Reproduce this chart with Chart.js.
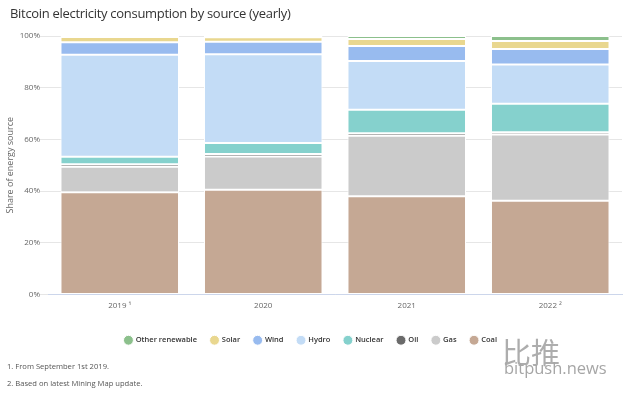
<!DOCTYPE html>
<html>
<head>
<meta charset="utf-8">
<script src="https://cdn.jsdelivr.net/npm/chart.js@4/dist/chart.umd.min.js"></script>
<style>
  body { margin: 0; background: #fff; }
  #wrap { position: relative; width: 628px; height: 394px; overflow: hidden; font-family: "Open Sans", sans-serif; }
  #title { position: absolute; left: 10px; top: 4px; font-size: 13px; letter-spacing: -0.3px; color: #333; white-space: nowrap; }
  .note { position: absolute; left: 7px; font-size: 7.6px; color: #555; white-space: nowrap; }
  #mark1 { position: absolute; left: 502px; top: 330px; font-size: 29px; color: #adadad; font-family: "Noto Sans CJK SC", sans-serif; }
  #mark2 { position: absolute; left: 504px; top: 356px; font-size: 16.5px; color: #a6a6a6; }
  canvas { position: absolute; left: 0; top: 0; }
</style>
</head>
<body>
<div id="wrap">
  <canvas id="chart" width="628" height="394"></canvas>
  <div id="title">Bitcoin electricity consumption by source (yearly)</div>
  <div class="note" style="top:361px">1. From September 1st 2019.</div>
  <div class="note" style="top:378px">2. Based on latest Mining Map update.</div>
  <div id="mark1">比推</div>
  <div id="mark2">bitpush.news</div>
</div>
<script>
const years = ['2019 ¹', '2020', '2021', '2022 ²'];

// share of energy source, % per year
const coal = [39.6, 40.5, 38.0, 36.3];
const gas = [9.8, 12.9, 23.4, 25.6];
const oil = [1.0, 1.0, 1.0, 0.9];
const nuclear = [2.9, 4.2, 9.1, 11.0];
const hydro = [39.4, 34.3, 18.8, 15.2];
const wind = [4.9, 4.9, 5.8, 6.0];
const solar = [2.0, 1.7, 2.7, 3.1];
const otherRenewable = [0.4, 0.5, 1.2, 1.9];

const yTicks = [0, 20, 40, 60, 80, 100];

// bottom of the stack first
const series = [
  { label: 'Coal', data: coal, color: '#c5a894' },
  { label: 'Gas', data: gas, color: '#cbcbcb' },
  { label: 'Oil', data: oil, color: '#6a6a6a' },
  { label: 'Nuclear', data: nuclear, color: '#85d1cd' },
  { label: 'Hydro', data: hydro, color: '#c3dcf6' },
  { label: 'Wind', data: wind, color: '#98bbef' },
  { label: 'Solar', data: solar, color: '#e9d78f' },
  { label: 'Other renewable', data: otherRenewable, color: '#8cc08c' }
];

new Chart(document.getElementById('chart'), {
  type: 'bar',
  data: {
    labels: years,
    datasets: series.map(s => ({
      label: s.label,
      data: s.data,
      backgroundColor: s.color,
      borderColor: '#ffffff',
      borderWidth: 1,
      borderSkipped: false,
      barPercentage: 0.826,
      categoryPercentage: 1
    }))
  },
  options: {
    responsive: false,
    animation: false,
    layout: { padding: { top: 36, right: 6, bottom: 40, left: 0 } },
    plugins: {
      tooltip: { enabled: false },
      title: { display: false },
      legend: {
        position: 'bottom',
        reverse: true,
        labels: {
          usePointStyle: true,
          pointStyle: 'circle',
          boxWidth: 7,
          boxHeight: 7,
          padding: 14,
          color: '#333',
          font: { family: 'Open Sans', size: 7.5, weight: '600' }
        }
      }
    },
    scales: {
      x: {
        stacked: true,
        grid: { display: false, drawTicks: false },
        border: { color: '#ccd6eb' },
        ticks: { color: '#666', font: { family: 'Open Sans', size: 8 }, padding: 6 },
        afterFit: s => { s.height = 28; }
      },
      y: {
        stacked: true,
        min: 0,
        max: 100,
        afterBuildTicks: s => { s.ticks = yTicks.map(v => ({ value: v })); },
        grid: { color: '#e6e6e6', drawTicks: true, tickLength: 8, tickColor: '#e6e6e6' },
        border: { display: false },
        ticks: {
          color: '#666',
          font: { family: 'Open Sans', size: 8 },
          padding: 0,
          callback: v => v + '%'
        },
        title: {
          display: true,
          text: 'Share of energy source',
          color: '#666',
          font: { family: 'Open Sans', size: 9 },
          padding: { top: 5, bottom: 7 }
        },
        afterFit: s => { s.width = 48; }
      }
    }
  }
});
</script>
</body>
</html>
